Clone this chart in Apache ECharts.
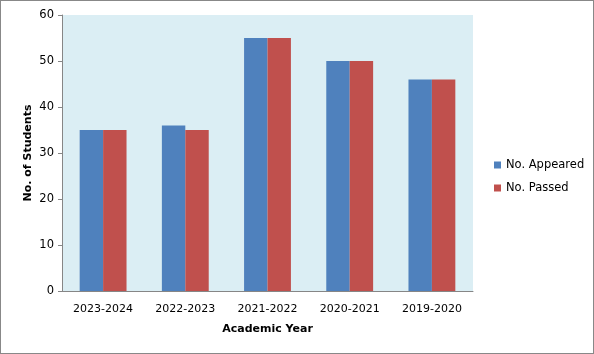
<!DOCTYPE html>
<html>
<head>
<meta charset="utf-8">
<script src="https://cdn.jsdelivr.net/npm/echarts@6/dist/echarts.min.js"></script>
<style>
  html, body { margin: 0; padding: 0; background: #fff; }
  #chart { width: 594px; height: 354px; box-sizing: border-box; border: 1px solid #888; }
</style>
</head>
<body>
<div id="chart"></div>
<script>
// data
const years = ['2023-2024', '2022-2023', '2021-2022', '2020-2021', '2019-2020'];
const appeared = [35, 36, 55, 50, 46];
const passed = [35, 35, 55, 50, 46];
const yTicks = { min: 0, max: 60, interval: 10 };

const chart = echarts.init(document.getElementById('chart'));
const font = 'DejaVu Sans, Verdana, sans-serif';

chart.setOption({
    animation: false,
    textStyle: { fontFamily: font },
    grid: { left: 61, top: 14, width: 411, height: 276, backgroundColor: '#DBEEF4', show: true, borderWidth: 0 },
    legend: {
        orient: 'vertical',
        left: 488, top: 153,
        itemWidth: 7, itemHeight: 7, itemGap: 11,
        icon: 'rect',
        textStyle: { fontFamily: font, fontSize: 11.5, color: '#000' },
        data: ['No. Appeared', 'No. Passed']
    },
    xAxis: {
        type: 'category',
        data: years,
        name: 'Academic Year',
        nameLocation: 'middle',
        nameGap: 33,
        nameTextStyle: { fontFamily: font, fontSize: 11, fontWeight: 'bold', color: '#000' },
        axisLine: { lineStyle: { color: '#868686' } },
        axisTick: { show: false },
        axisLabel: { fontFamily: font, fontSize: 11, color: '#000', margin: 13 }
    },
    yAxis: {
        type: 'value',
        min: yTicks.min, max: yTicks.max, interval: yTicks.interval,
        name: 'No. of Students',
        nameLocation: 'middle',
        nameGap: 28,
        nameMoveOverlap: false,
        nameTextStyle: { fontFamily: font, fontSize: 11, fontWeight: 'bold', color: '#000' },
        axisLine: { show: true, lineStyle: { color: '#868686' } },
        axisTick: { show: true, length: 4, lineStyle: { color: '#868686' } },
        axisLabel: { fontFamily: font, fontSize: 11.5, color: '#000', margin: 8 },
        splitLine: { show: false }
    },
    series: [
        {
            name: 'No. Appeared', type: 'bar', data: appeared,
            barGap: '0%', barCategoryGap: '43%',
            itemStyle: { color: '#4F81BD' }
        },
        {
            name: 'No. Passed', type: 'bar', data: passed,
            itemStyle: { color: '#C0504D' }
        }
    ]
});

window.addEventListener('resize', () => chart.resize());
</script>
</body>
</html>
